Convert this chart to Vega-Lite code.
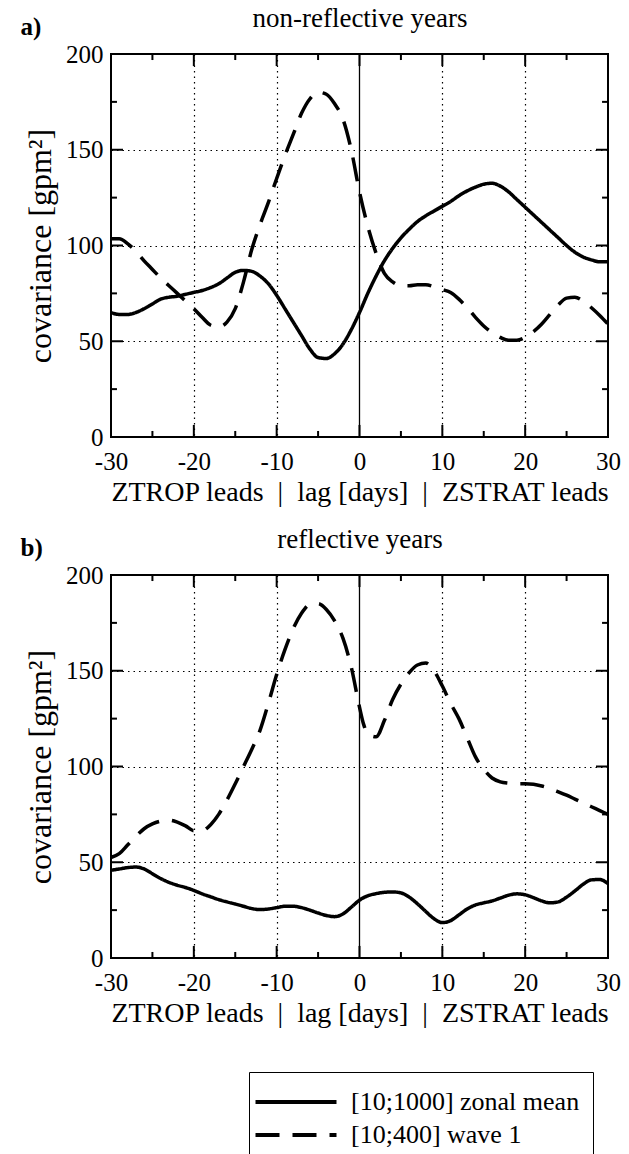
{
  "$schema": "https://vega.github.io/schema/vega-lite/v6.json",
  "padding": {"left": 19, "top": 3, "right": 5, "bottom": 0},
  "background": "white",
  "datasets": {
    "xticks": [
      {"v": -25, "kind": "minor"}, {"v": -20, "kind": "major"}, {"v": -15, "kind": "minor"}, {"v": -10, "kind": "major"},
      {"v": -5, "kind": "minor"}, {"v": 0, "kind": "major"}, {"v": 5, "kind": "minor"}, {"v": 10, "kind": "major"},
      {"v": 15, "kind": "minor"}, {"v": 20, "kind": "major"}, {"v": 25, "kind": "minor"}
    ],
    "yticks": [
      {"v": 25, "kind": "minor"}, {"v": 50, "kind": "major"}, {"v": 75, "kind": "minor"}, {"v": 100, "kind": "major"},
      {"v": 125, "kind": "minor"}, {"v": 150, "kind": "major"}, {"v": 175, "kind": "minor"}
    ],
    "a": [
      {"lag": -30, "cov": 65, "series": "[10;1000] zonal mean"},
      {"lag": -29, "cov": 64, "series": "[10;1000] zonal mean"},
      {"lag": -28, "cov": 64, "series": "[10;1000] zonal mean"},
      {"lag": -27, "cov": 65, "series": "[10;1000] zonal mean"},
      {"lag": -26, "cov": 67, "series": "[10;1000] zonal mean"},
      {"lag": -25, "cov": 69.5, "series": "[10;1000] zonal mean"},
      {"lag": -24, "cov": 72, "series": "[10;1000] zonal mean"},
      {"lag": -23, "cov": 73, "series": "[10;1000] zonal mean"},
      {"lag": -22, "cov": 73.5, "series": "[10;1000] zonal mean"},
      {"lag": -21, "cov": 74.5, "series": "[10;1000] zonal mean"},
      {"lag": -20, "cov": 75.5, "series": "[10;1000] zonal mean"},
      {"lag": -19, "cov": 76.5, "series": "[10;1000] zonal mean"},
      {"lag": -18, "cov": 78, "series": "[10;1000] zonal mean"},
      {"lag": -17, "cov": 80, "series": "[10;1000] zonal mean"},
      {"lag": -16, "cov": 83, "series": "[10;1000] zonal mean"},
      {"lag": -15, "cov": 86, "series": "[10;1000] zonal mean"},
      {"lag": -14, "cov": 87, "series": "[10;1000] zonal mean"},
      {"lag": -13, "cov": 86.5, "series": "[10;1000] zonal mean"},
      {"lag": -12, "cov": 84, "series": "[10;1000] zonal mean"},
      {"lag": -11, "cov": 80, "series": "[10;1000] zonal mean"},
      {"lag": -10, "cov": 74, "series": "[10;1000] zonal mean"},
      {"lag": -9, "cov": 67, "series": "[10;1000] zonal mean"},
      {"lag": -8, "cov": 60, "series": "[10;1000] zonal mean"},
      {"lag": -7, "cov": 53, "series": "[10;1000] zonal mean"},
      {"lag": -6, "cov": 46, "series": "[10;1000] zonal mean"},
      {"lag": -5, "cov": 41.5, "series": "[10;1000] zonal mean"},
      {"lag": -4, "cov": 41, "series": "[10;1000] zonal mean"},
      {"lag": -3, "cov": 43.5, "series": "[10;1000] zonal mean"},
      {"lag": -2, "cov": 48.5, "series": "[10;1000] zonal mean"},
      {"lag": -1, "cov": 56, "series": "[10;1000] zonal mean"},
      {"lag": 0, "cov": 65, "series": "[10;1000] zonal mean"},
      {"lag": 1, "cov": 75, "series": "[10;1000] zonal mean"},
      {"lag": 2, "cov": 84, "series": "[10;1000] zonal mean"},
      {"lag": 3, "cov": 92, "series": "[10;1000] zonal mean"},
      {"lag": 4, "cov": 98.5, "series": "[10;1000] zonal mean"},
      {"lag": 5, "cov": 104, "series": "[10;1000] zonal mean"},
      {"lag": 6, "cov": 108.5, "series": "[10;1000] zonal mean"},
      {"lag": 7, "cov": 112.5, "series": "[10;1000] zonal mean"},
      {"lag": 8, "cov": 115.5, "series": "[10;1000] zonal mean"},
      {"lag": 9, "cov": 118, "series": "[10;1000] zonal mean"},
      {"lag": 10, "cov": 120.5, "series": "[10;1000] zonal mean"},
      {"lag": 11, "cov": 123, "series": "[10;1000] zonal mean"},
      {"lag": 12, "cov": 126, "series": "[10;1000] zonal mean"},
      {"lag": 13, "cov": 128.5, "series": "[10;1000] zonal mean"},
      {"lag": 14, "cov": 130.5, "series": "[10;1000] zonal mean"},
      {"lag": 15, "cov": 132, "series": "[10;1000] zonal mean"},
      {"lag": 16, "cov": 132.5, "series": "[10;1000] zonal mean"},
      {"lag": 17, "cov": 131, "series": "[10;1000] zonal mean"},
      {"lag": 18, "cov": 128, "series": "[10;1000] zonal mean"},
      {"lag": 19, "cov": 124, "series": "[10;1000] zonal mean"},
      {"lag": 20, "cov": 120, "series": "[10;1000] zonal mean"},
      {"lag": 21, "cov": 116, "series": "[10;1000] zonal mean"},
      {"lag": 22, "cov": 112, "series": "[10;1000] zonal mean"},
      {"lag": 23, "cov": 108, "series": "[10;1000] zonal mean"},
      {"lag": 24, "cov": 104, "series": "[10;1000] zonal mean"},
      {"lag": 25, "cov": 100, "series": "[10;1000] zonal mean"},
      {"lag": 26, "cov": 96.5, "series": "[10;1000] zonal mean"},
      {"lag": 27, "cov": 94, "series": "[10;1000] zonal mean"},
      {"lag": 28, "cov": 92.5, "series": "[10;1000] zonal mean"},
      {"lag": 29, "cov": 91.5, "series": "[10;1000] zonal mean"},
      {"lag": 30, "cov": 91.5, "series": "[10;1000] zonal mean"},
      {"lag": -30, "cov": 103.5, "series": "[10;400] wave 1"},
      {"lag": -29, "cov": 103.5, "series": "[10;400] wave 1"},
      {"lag": -28, "cov": 101, "series": "[10;400] wave 1"},
      {"lag": -27, "cov": 97, "series": "[10;400] wave 1"},
      {"lag": -26, "cov": 92, "series": "[10;400] wave 1"},
      {"lag": -25, "cov": 87.5, "series": "[10;400] wave 1"},
      {"lag": -24, "cov": 83, "series": "[10;400] wave 1"},
      {"lag": -23, "cov": 79, "series": "[10;400] wave 1"},
      {"lag": -22, "cov": 75, "series": "[10;400] wave 1"},
      {"lag": -21, "cov": 71, "series": "[10;400] wave 1"},
      {"lag": -20, "cov": 67, "series": "[10;400] wave 1"},
      {"lag": -19, "cov": 62.5, "series": "[10;400] wave 1"},
      {"lag": -18, "cov": 58.5, "series": "[10;400] wave 1"},
      {"lag": -17, "cov": 57.5, "series": "[10;400] wave 1"},
      {"lag": -16, "cov": 60, "series": "[10;400] wave 1"},
      {"lag": -15, "cov": 67, "series": "[10;400] wave 1"},
      {"lag": -14, "cov": 81, "series": "[10;400] wave 1"},
      {"lag": -13, "cov": 98, "series": "[10;400] wave 1"},
      {"lag": -12, "cov": 111, "series": "[10;400] wave 1"},
      {"lag": -11, "cov": 122.5, "series": "[10;400] wave 1"},
      {"lag": -10, "cov": 135, "series": "[10;400] wave 1"},
      {"lag": -9, "cov": 147, "series": "[10;400] wave 1"},
      {"lag": -8, "cov": 158, "series": "[10;400] wave 1"},
      {"lag": -7, "cov": 169, "series": "[10;400] wave 1"},
      {"lag": -6, "cov": 176.5, "series": "[10;400] wave 1"},
      {"lag": -5, "cov": 180, "series": "[10;400] wave 1"},
      {"lag": -4, "cov": 179, "series": "[10;400] wave 1"},
      {"lag": -3, "cov": 174, "series": "[10;400] wave 1"},
      {"lag": -2, "cov": 166, "series": "[10;400] wave 1"},
      {"lag": -1, "cov": 150, "series": "[10;400] wave 1"},
      {"lag": 0, "cov": 128, "series": "[10;400] wave 1"},
      {"lag": 1, "cov": 110, "series": "[10;400] wave 1"},
      {"lag": 2, "cov": 96, "series": "[10;400] wave 1"},
      {"lag": 3, "cov": 85.5, "series": "[10;400] wave 1"},
      {"lag": 4, "cov": 81, "series": "[10;400] wave 1"},
      {"lag": 5, "cov": 79, "series": "[10;400] wave 1"},
      {"lag": 6, "cov": 79, "series": "[10;400] wave 1"},
      {"lag": 7, "cov": 79.5, "series": "[10;400] wave 1"},
      {"lag": 8, "cov": 79.5, "series": "[10;400] wave 1"},
      {"lag": 9, "cov": 78.5, "series": "[10;400] wave 1"},
      {"lag": 10, "cov": 77, "series": "[10;400] wave 1"},
      {"lag": 11, "cov": 75.5, "series": "[10;400] wave 1"},
      {"lag": 12, "cov": 72, "series": "[10;400] wave 1"},
      {"lag": 13, "cov": 67.5, "series": "[10;400] wave 1"},
      {"lag": 14, "cov": 62.5, "series": "[10;400] wave 1"},
      {"lag": 15, "cov": 58, "series": "[10;400] wave 1"},
      {"lag": 16, "cov": 54.5, "series": "[10;400] wave 1"},
      {"lag": 17, "cov": 52, "series": "[10;400] wave 1"},
      {"lag": 18, "cov": 50.5, "series": "[10;400] wave 1"},
      {"lag": 19, "cov": 50.5, "series": "[10;400] wave 1"},
      {"lag": 20, "cov": 52, "series": "[10;400] wave 1"},
      {"lag": 21, "cov": 55, "series": "[10;400] wave 1"},
      {"lag": 22, "cov": 59, "series": "[10;400] wave 1"},
      {"lag": 23, "cov": 64, "series": "[10;400] wave 1"},
      {"lag": 24, "cov": 69, "series": "[10;400] wave 1"},
      {"lag": 25, "cov": 72.5, "series": "[10;400] wave 1"},
      {"lag": 26, "cov": 73, "series": "[10;400] wave 1"},
      {"lag": 27, "cov": 71, "series": "[10;400] wave 1"},
      {"lag": 28, "cov": 67.5, "series": "[10;400] wave 1"},
      {"lag": 29, "cov": 63.5, "series": "[10;400] wave 1"},
      {"lag": 30, "cov": 59, "series": "[10;400] wave 1"}
    ],
    "b": [
      {"lag": -30, "cov": 45.8, "series": "[10;1000] zonal mean"},
      {"lag": -29, "cov": 46.5, "series": "[10;1000] zonal mean"},
      {"lag": -28, "cov": 47.2, "series": "[10;1000] zonal mean"},
      {"lag": -27, "cov": 47.5, "series": "[10;1000] zonal mean"},
      {"lag": -26, "cov": 46.5, "series": "[10;1000] zonal mean"},
      {"lag": -25, "cov": 44, "series": "[10;1000] zonal mean"},
      {"lag": -24, "cov": 41.5, "series": "[10;1000] zonal mean"},
      {"lag": -23, "cov": 39.5, "series": "[10;1000] zonal mean"},
      {"lag": -22, "cov": 38, "series": "[10;1000] zonal mean"},
      {"lag": -21, "cov": 36.8, "series": "[10;1000] zonal mean"},
      {"lag": -20, "cov": 35.3, "series": "[10;1000] zonal mean"},
      {"lag": -19, "cov": 33.5, "series": "[10;1000] zonal mean"},
      {"lag": -18, "cov": 32, "series": "[10;1000] zonal mean"},
      {"lag": -17, "cov": 30.5, "series": "[10;1000] zonal mean"},
      {"lag": -16, "cov": 29.3, "series": "[10;1000] zonal mean"},
      {"lag": -15, "cov": 28.2, "series": "[10;1000] zonal mean"},
      {"lag": -14, "cov": 27, "series": "[10;1000] zonal mean"},
      {"lag": -13, "cov": 25.8, "series": "[10;1000] zonal mean"},
      {"lag": -12, "cov": 25.3, "series": "[10;1000] zonal mean"},
      {"lag": -11, "cov": 25.6, "series": "[10;1000] zonal mean"},
      {"lag": -10, "cov": 26.3, "series": "[10;1000] zonal mean"},
      {"lag": -9, "cov": 27, "series": "[10;1000] zonal mean"},
      {"lag": -8, "cov": 27, "series": "[10;1000] zonal mean"},
      {"lag": -7, "cov": 26.3, "series": "[10;1000] zonal mean"},
      {"lag": -6, "cov": 25, "series": "[10;1000] zonal mean"},
      {"lag": -5, "cov": 23.5, "series": "[10;1000] zonal mean"},
      {"lag": -4, "cov": 22.2, "series": "[10;1000] zonal mean"},
      {"lag": -3, "cov": 21.6, "series": "[10;1000] zonal mean"},
      {"lag": -2, "cov": 23, "series": "[10;1000] zonal mean"},
      {"lag": -1, "cov": 26.5, "series": "[10;1000] zonal mean"},
      {"lag": 0, "cov": 30.2, "series": "[10;1000] zonal mean"},
      {"lag": 1, "cov": 32.5, "series": "[10;1000] zonal mean"},
      {"lag": 2, "cov": 33.6, "series": "[10;1000] zonal mean"},
      {"lag": 3, "cov": 34.3, "series": "[10;1000] zonal mean"},
      {"lag": 4, "cov": 34.5, "series": "[10;1000] zonal mean"},
      {"lag": 5, "cov": 34, "series": "[10;1000] zonal mean"},
      {"lag": 6, "cov": 31.8, "series": "[10;1000] zonal mean"},
      {"lag": 7, "cov": 28.3, "series": "[10;1000] zonal mean"},
      {"lag": 8, "cov": 24.3, "series": "[10;1000] zonal mean"},
      {"lag": 9, "cov": 20.5, "series": "[10;1000] zonal mean"},
      {"lag": 10, "cov": 18.5, "series": "[10;1000] zonal mean"},
      {"lag": 11, "cov": 19.5, "series": "[10;1000] zonal mean"},
      {"lag": 12, "cov": 22.5, "series": "[10;1000] zonal mean"},
      {"lag": 13, "cov": 25.6, "series": "[10;1000] zonal mean"},
      {"lag": 14, "cov": 27.7, "series": "[10;1000] zonal mean"},
      {"lag": 15, "cov": 28.8, "series": "[10;1000] zonal mean"},
      {"lag": 16, "cov": 29.8, "series": "[10;1000] zonal mean"},
      {"lag": 17, "cov": 31.3, "series": "[10;1000] zonal mean"},
      {"lag": 18, "cov": 32.8, "series": "[10;1000] zonal mean"},
      {"lag": 19, "cov": 33.5, "series": "[10;1000] zonal mean"},
      {"lag": 20, "cov": 33, "series": "[10;1000] zonal mean"},
      {"lag": 21, "cov": 31.5, "series": "[10;1000] zonal mean"},
      {"lag": 22, "cov": 29.8, "series": "[10;1000] zonal mean"},
      {"lag": 23, "cov": 28.8, "series": "[10;1000] zonal mean"},
      {"lag": 24, "cov": 29.3, "series": "[10;1000] zonal mean"},
      {"lag": 25, "cov": 31.8, "series": "[10;1000] zonal mean"},
      {"lag": 26, "cov": 35, "series": "[10;1000] zonal mean"},
      {"lag": 27, "cov": 38.5, "series": "[10;1000] zonal mean"},
      {"lag": 28, "cov": 40.8, "series": "[10;1000] zonal mean"},
      {"lag": 29, "cov": 41, "series": "[10;1000] zonal mean"},
      {"lag": 30, "cov": 38.8, "series": "[10;1000] zonal mean"},
      {"lag": -30, "cov": 52.5, "series": "[10;400] wave 1"},
      {"lag": -29, "cov": 54.5, "series": "[10;400] wave 1"},
      {"lag": -28, "cov": 59, "series": "[10;400] wave 1"},
      {"lag": -27, "cov": 63.5, "series": "[10;400] wave 1"},
      {"lag": -26, "cov": 67.5, "series": "[10;400] wave 1"},
      {"lag": -25, "cov": 70, "series": "[10;400] wave 1"},
      {"lag": -24, "cov": 71.5, "series": "[10;400] wave 1"},
      {"lag": -23, "cov": 72, "series": "[10;400] wave 1"},
      {"lag": -22, "cov": 71, "series": "[10;400] wave 1"},
      {"lag": -21, "cov": 69, "series": "[10;400] wave 1"},
      {"lag": -20, "cov": 66.5, "series": "[10;400] wave 1"},
      {"lag": -19, "cov": 66.5, "series": "[10;400] wave 1"},
      {"lag": -18, "cov": 69.5, "series": "[10;400] wave 1"},
      {"lag": -17, "cov": 75, "series": "[10;400] wave 1"},
      {"lag": -16, "cov": 82.5, "series": "[10;400] wave 1"},
      {"lag": -15, "cov": 91, "series": "[10;400] wave 1"},
      {"lag": -14, "cov": 100, "series": "[10;400] wave 1"},
      {"lag": -13, "cov": 109, "series": "[10;400] wave 1"},
      {"lag": -12, "cov": 119, "series": "[10;400] wave 1"},
      {"lag": -11, "cov": 133, "series": "[10;400] wave 1"},
      {"lag": -10, "cov": 148, "series": "[10;400] wave 1"},
      {"lag": -9, "cov": 161, "series": "[10;400] wave 1"},
      {"lag": -8, "cov": 172, "series": "[10;400] wave 1"},
      {"lag": -7, "cov": 180, "series": "[10;400] wave 1"},
      {"lag": -6, "cov": 184.5, "series": "[10;400] wave 1"},
      {"lag": -5, "cov": 185, "series": "[10;400] wave 1"},
      {"lag": -4, "cov": 182, "series": "[10;400] wave 1"},
      {"lag": -3, "cov": 176, "series": "[10;400] wave 1"},
      {"lag": -2, "cov": 167, "series": "[10;400] wave 1"},
      {"lag": -1, "cov": 152, "series": "[10;400] wave 1"},
      {"lag": 0, "cov": 131, "series": "[10;400] wave 1"},
      {"lag": 0.5, "cov": 122, "series": "[10;400] wave 1"},
      {"lag": 1, "cov": 117, "series": "[10;400] wave 1"},
      {"lag": 2, "cov": 115.5, "series": "[10;400] wave 1"},
      {"lag": 3, "cov": 124, "series": "[10;400] wave 1"},
      {"lag": 4, "cov": 135, "series": "[10;400] wave 1"},
      {"lag": 5, "cov": 143, "series": "[10;400] wave 1"},
      {"lag": 6, "cov": 149, "series": "[10;400] wave 1"},
      {"lag": 7, "cov": 153, "series": "[10;400] wave 1"},
      {"lag": 8, "cov": 154, "series": "[10;400] wave 1"},
      {"lag": 9, "cov": 150, "series": "[10;400] wave 1"},
      {"lag": 10, "cov": 142, "series": "[10;400] wave 1"},
      {"lag": 11, "cov": 133, "series": "[10;400] wave 1"},
      {"lag": 12, "cov": 125, "series": "[10;400] wave 1"},
      {"lag": 13, "cov": 115, "series": "[10;400] wave 1"},
      {"lag": 14, "cov": 105, "series": "[10;400] wave 1"},
      {"lag": 15, "cov": 98.5, "series": "[10;400] wave 1"},
      {"lag": 16, "cov": 94, "series": "[10;400] wave 1"},
      {"lag": 17, "cov": 92, "series": "[10;400] wave 1"},
      {"lag": 18, "cov": 91.3, "series": "[10;400] wave 1"},
      {"lag": 19, "cov": 91, "series": "[10;400] wave 1"},
      {"lag": 20, "cov": 91, "series": "[10;400] wave 1"},
      {"lag": 21, "cov": 90.7, "series": "[10;400] wave 1"},
      {"lag": 22, "cov": 89.8, "series": "[10;400] wave 1"},
      {"lag": 23, "cov": 88.5, "series": "[10;400] wave 1"},
      {"lag": 24, "cov": 86.8, "series": "[10;400] wave 1"},
      {"lag": 25, "cov": 85, "series": "[10;400] wave 1"},
      {"lag": 26, "cov": 83, "series": "[10;400] wave 1"},
      {"lag": 27, "cov": 81, "series": "[10;400] wave 1"},
      {"lag": 28, "cov": 79, "series": "[10;400] wave 1"},
      {"lag": 29, "cov": 77, "series": "[10;400] wave 1"},
      {"lag": 30, "cov": 75, "series": "[10;400] wave 1"}
    ]
  },
  "spacing": 17,
  "resolve": {"scale": {"strokeDash": "independent"}, "legend": {"strokeDash": "independent"}},
  "vconcat": [
    {
      "width": 497,
      "height": 383,
      "title": {"text": "a)", "anchor": "start", "fontWeight": "bold", "fontSize": 25, "dx": -4, "dy": 36, "offset": 0},
      "resolve": {"axis": {"x": "independent", "y": "independent"}},
      "layer": [
        {
          "data": {"name": "a"},
          "mark": {"type": "line", "interpolate": "monotone", "strokeWidth": 3.5, "color": "black", "strokeCap": "butt"},
          "encoding": {
            "x": {"field": "lag", "type": "quantitative", "scale": {"domain": [-30, 30], "nice": false, "zero": false},
              "axis": {"orient": "bottom", "values": [-30, -20, -10, 0, 10, 20, 30], "ticks": false,
                "labelExpr": "'' + datum.value", "labelPadding": 12, "labelFlush": false,
                "grid": true,
                "gridOpacity": {"condition": {"test": "datum.value === 0 || abs(datum.value) === 30", "value": 0}, "value": 1},
                "title": "ZTROP leads\u00a0\u00a0|\u00a0\u00a0lag [days]\u00a0\u00a0|\u00a0\u00a0ZSTRAT leads", "titlePadding": 4}},
            "y": {"field": "cov", "type": "quantitative", "scale": {"domain": [0, 200], "nice": false},
              "axis": {"orient": "left", "values": [0, 50, 100, 150, 200], "ticks": false,
                "labelExpr": "'' + datum.value", "labelPadding": 8, "labelFlush": false,
                "grid": true,
                "gridOpacity": {"condition": {"test": "datum.value === 0 || datum.value === 200", "value": 0}, "value": 1},
                "title": "covariance [gpm²]", "titlePadding": 8, "titleFontSize": 32}},
            "strokeDash": {"field": "series", "type": "nominal", "scale": {"domain": ["[10;1000] zonal mean", "[10;400] wave 1"], "range": [[1, 0], [24, 13]]}, "legend": null}
          }
        },
        {
          "data": {"values": [{}]},
          "mark": {"type": "rule", "strokeWidth": 1.3, "color": "black"},
          "encoding": {
            "x": {"datum": 0, "type": "quantitative",
              "axis": {"orient": "top", "values": [0], "ticks": false, "labels": false, "grid": false, "title": "non-reflective years", "titlePadding": 22, "titleFontSize": 27}},
            "y": {"datum": 0, "type": "quantitative", "axis": null},
            "y2": {"datum": 200}
          }
        },
        {"data": {"name": "xticks"}, "transform": [{"filter": "datum.kind === 'major'"}], "mark": {"type": "rule", "strokeWidth": 2, "color": "black"},
          "encoding": {"x": {"field": "v", "type": "quantitative", "axis": null}, "y": {"datum": 0, "type": "quantitative", "axis": null}, "y2": {"datum": 6.3}}},
        {"data": {"name": "xticks"}, "transform": [{"filter": "datum.kind === 'minor'"}], "mark": {"type": "rule", "strokeWidth": 2, "color": "black"},
          "encoding": {"x": {"field": "v", "type": "quantitative", "axis": null}, "y": {"datum": 0, "type": "quantitative", "axis": null}, "y2": {"datum": 3.15}}},
        {"data": {"name": "xticks"}, "transform": [{"filter": "datum.kind === 'major'"}], "mark": {"type": "rule", "strokeWidth": 2, "color": "black"},
          "encoding": {"x": {"field": "v", "type": "quantitative", "axis": null}, "y": {"datum": 200, "type": "quantitative", "axis": null}, "y2": {"datum": 193.7}}},
        {"data": {"name": "xticks"}, "transform": [{"filter": "datum.kind === 'minor'"}], "mark": {"type": "rule", "strokeWidth": 2, "color": "black"},
          "encoding": {"x": {"field": "v", "type": "quantitative", "axis": null}, "y": {"datum": 200, "type": "quantitative", "axis": null}, "y2": {"datum": 196.85}}},
        {"data": {"name": "yticks"}, "transform": [{"filter": "datum.kind === 'major'"}], "mark": {"type": "rule", "strokeWidth": 2, "color": "black"},
          "encoding": {"y": {"field": "v", "type": "quantitative", "axis": null}, "x": {"datum": -30, "type": "quantitative", "axis": null}, "x2": {"datum": -28.55}}},
        {"data": {"name": "yticks"}, "transform": [{"filter": "datum.kind === 'minor'"}], "mark": {"type": "rule", "strokeWidth": 2, "color": "black"},
          "encoding": {"y": {"field": "v", "type": "quantitative", "axis": null}, "x": {"datum": -30, "type": "quantitative", "axis": null}, "x2": {"datum": -29.28}}},
        {"data": {"name": "yticks"}, "transform": [{"filter": "datum.kind === 'major'"}], "mark": {"type": "rule", "strokeWidth": 2, "color": "black"},
          "encoding": {"y": {"field": "v", "type": "quantitative", "axis": null}, "x": {"datum": 30, "type": "quantitative", "axis": null}, "x2": {"datum": 28.55}}},
        {"data": {"name": "yticks"}, "transform": [{"filter": "datum.kind === 'minor'"}], "mark": {"type": "rule", "strokeWidth": 2, "color": "black"},
          "encoding": {"y": {"field": "v", "type": "quantitative", "axis": null}, "x": {"datum": 30, "type": "quantitative", "axis": null}, "x2": {"datum": 29.28}}}
      ]
    },
    {
      "width": 497,
      "height": 383,
      "title": {"text": "b)", "anchor": "start", "fontWeight": "bold", "fontSize": 25, "dx": -4, "dy": 36, "offset": 0},
      "resolve": {"axis": {"x": "independent", "y": "independent"}},
      "layer": [
        {
          "data": {"name": "b"},
          "mark": {"type": "line", "interpolate": "monotone", "strokeWidth": 3.5, "color": "black", "strokeCap": "butt"},
          "encoding": {
            "x": {"field": "lag", "type": "quantitative", "scale": {"domain": [-30, 30], "nice": false, "zero": false},
              "axis": {"orient": "bottom", "values": [-30, -20, -10, 0, 10, 20, 30], "ticks": false,
                "labelExpr": "'' + datum.value", "labelPadding": 12, "labelFlush": false,
                "grid": true,
                "gridOpacity": {"condition": {"test": "datum.value === 0 || abs(datum.value) === 30", "value": 0}, "value": 1},
                "title": "ZTROP leads\u00a0\u00a0|\u00a0\u00a0lag [days]\u00a0\u00a0|\u00a0\u00a0ZSTRAT leads", "titlePadding": 4}},
            "y": {"field": "cov", "type": "quantitative", "scale": {"domain": [0, 200], "nice": false},
              "axis": {"orient": "left", "values": [0, 50, 100, 150, 200], "ticks": false,
                "labelExpr": "'' + datum.value", "labelPadding": 8, "labelFlush": false,
                "grid": true,
                "gridOpacity": {"condition": {"test": "datum.value === 0 || datum.value === 200", "value": 0}, "value": 1},
                "title": "covariance [gpm²]", "titlePadding": 8, "titleFontSize": 32}},
            "strokeDash": {"field": "series", "type": "nominal", "scale": {"domain": ["[10;1000] zonal mean", "[10;400] wave 1"], "range": [[1, 0], [24, 13]]},
              "legend": {"orient": "none", "legendX": 138, "legendY": 497, "direction": "vertical", "title": null,
                "symbolType": "M-2.7,0H2.7", "symbolSize": 900, "symbolStrokeWidth": 4, "symbolStrokeColor": "black", "symbolFillColor": "transparent",
                "symbolOffset": 17, "labelOffset": 38, "labelFontSize": 26, "labelLimit": 400, "labelColor": "black",
                "strokeColor": "black", "padding": 13, "rowPadding": 3}}
          }
        },
        {
          "data": {"values": [{}]},
          "mark": {"type": "rule", "strokeWidth": 1.3, "color": "black"},
          "encoding": {
            "x": {"datum": 0, "type": "quantitative",
              "axis": {"orient": "top", "values": [0], "ticks": false, "labels": false, "grid": false, "title": "reflective years", "titlePadding": 22, "titleFontSize": 27}},
            "y": {"datum": 0, "type": "quantitative", "axis": null},
            "y2": {"datum": 200}
          }
        },
        {"data": {"name": "xticks"}, "transform": [{"filter": "datum.kind === 'major'"}], "mark": {"type": "rule", "strokeWidth": 2, "color": "black"},
          "encoding": {"x": {"field": "v", "type": "quantitative", "axis": null}, "y": {"datum": 0, "type": "quantitative", "axis": null}, "y2": {"datum": 6.3}}},
        {"data": {"name": "xticks"}, "transform": [{"filter": "datum.kind === 'minor'"}], "mark": {"type": "rule", "strokeWidth": 2, "color": "black"},
          "encoding": {"x": {"field": "v", "type": "quantitative", "axis": null}, "y": {"datum": 0, "type": "quantitative", "axis": null}, "y2": {"datum": 3.15}}},
        {"data": {"name": "xticks"}, "transform": [{"filter": "datum.kind === 'major'"}], "mark": {"type": "rule", "strokeWidth": 2, "color": "black"},
          "encoding": {"x": {"field": "v", "type": "quantitative", "axis": null}, "y": {"datum": 200, "type": "quantitative", "axis": null}, "y2": {"datum": 193.7}}},
        {"data": {"name": "xticks"}, "transform": [{"filter": "datum.kind === 'minor'"}], "mark": {"type": "rule", "strokeWidth": 2, "color": "black"},
          "encoding": {"x": {"field": "v", "type": "quantitative", "axis": null}, "y": {"datum": 200, "type": "quantitative", "axis": null}, "y2": {"datum": 196.85}}},
        {"data": {"name": "yticks"}, "transform": [{"filter": "datum.kind === 'major'"}], "mark": {"type": "rule", "strokeWidth": 2, "color": "black"},
          "encoding": {"y": {"field": "v", "type": "quantitative", "axis": null}, "x": {"datum": -30, "type": "quantitative", "axis": null}, "x2": {"datum": -28.55}}},
        {"data": {"name": "yticks"}, "transform": [{"filter": "datum.kind === 'minor'"}], "mark": {"type": "rule", "strokeWidth": 2, "color": "black"},
          "encoding": {"y": {"field": "v", "type": "quantitative", "axis": null}, "x": {"datum": -30, "type": "quantitative", "axis": null}, "x2": {"datum": -29.28}}},
        {"data": {"name": "yticks"}, "transform": [{"filter": "datum.kind === 'major'"}], "mark": {"type": "rule", "strokeWidth": 2, "color": "black"},
          "encoding": {"y": {"field": "v", "type": "quantitative", "axis": null}, "x": {"datum": 30, "type": "quantitative", "axis": null}, "x2": {"datum": 28.55}}},
        {"data": {"name": "yticks"}, "transform": [{"filter": "datum.kind === 'minor'"}], "mark": {"type": "rule", "strokeWidth": 2, "color": "black"},
          "encoding": {"y": {"field": "v", "type": "quantitative", "axis": null}, "x": {"datum": 30, "type": "quantitative", "axis": null}, "x2": {"datum": 29.28}}}
      ]
    }
  ],
  "config": {
    "font": "Liberation Serif",
    "view": {"stroke": "black", "strokeWidth": 2},
    "title": {"color": "black", "font": "Liberation Serif"},
    "axis": {
      "domain": false,
      "gridColor": "black",
      "gridDash": [1.5, 4],
      "gridWidth": 1.2,
      "labelFont": "Liberation Serif",
      "labelFontSize": 25,
      "labelColor": "black",
      "titleFont": "Liberation Serif",
      "titleFontSize": 28,
      "titleFontWeight": "normal",
      "titleColor": "black"
    },
    "legend": {"labelFont": "Liberation Serif"}
  }
}
